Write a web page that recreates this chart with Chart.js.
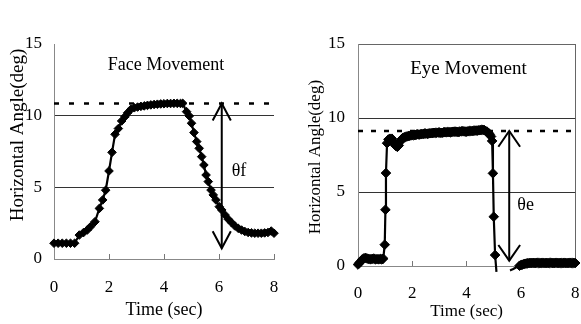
<!DOCTYPE html>
<html><head><meta charset="utf-8">
<script src="https://cdn.jsdelivr.net/npm/chart.js@4.4.0/dist/chart.umd.min.js"></script>
<style>
html,body{margin:0;padding:0;background:#fff;width:581px;height:324px;overflow:hidden}
#l{position:absolute;left:0;top:0}
#r{position:absolute;left:290px;top:0}
</style></head><body>
<canvas id="l" width="290" height="324"></canvas>
<canvas id="r" width="291" height="324"></canvas>
<script>
// ---- data ----
const faceTime = [0,0.15,0.3,0.45,0.6,0.75,0.92,1.07,1.21,1.33,1.49,1.65,1.77,1.88,2.0,2.11,2.22,2.34,2.46,2.58,2.68,2.8,2.92,3.04,3.16,3.28,3.4,3.52,3.64,3.76,3.88,4.0,4.12,4.24,4.36,4.48,4.6,4.68,4.82,4.92,5.0,5.09,5.19,5.28,5.37,5.45,5.53,5.61,5.71,5.79,5.89,6.01,6.1,6.22,6.34,6.46,6.58,6.7,6.82,6.94,7.06,7.18,7.3,7.42,7.54,7.66,7.78,7.9,8.0];
const faceAngle = [1.1,1.1,1.1,1.1,1.1,1.1,1.67,1.84,2.02,2.26,2.6,3.53,4.12,4.8,6.14,7.44,8.7,9.1,9.63,9.93,10.2,10.45,10.55,10.6,10.65,10.68,10.72,10.75,10.78,10.8,10.82,10.83,10.85,10.85,10.86,10.86,10.85,10.86,10.28,9.98,9.47,8.82,8.19,7.72,7.14,6.56,5.86,5.4,4.81,4.47,4.12,3.65,3.42,3.07,2.77,2.53,2.3,2.14,2.02,1.92,1.85,1.82,1.8,1.8,1.8,1.82,1.85,1.95,1.8];
const eyeTime = [0,0.05,0.1,0.16,0.22,0.28,0.34,0.4,0.46,0.52,0.58,0.64,0.7,0.76,0.82,0.88,0.93,0.985,1.01,1.03,1.07,1.12,1.18,1.25,1.3,1.35,1.4,1.45,1.5,1.55,1.6,1.65,1.7,1.75,1.8,1.85,1.9,1.95,2.0,2.05,2.1,2.15,2.2,2.25,2.3,2.35,2.4,2.45,2.5,2.55,2.6,2.65,2.7,2.75,2.8,2.85,2.9,2.95,3.0,3.05,3.1,3.15,3.2,3.25,3.3,3.35,3.4,3.45,3.5,3.55,3.6,3.65,3.7,3.75,3.8,3.85,3.9,3.95,4.0,4.05,4.1,4.15,4.2,4.25,4.3,4.35,4.4,4.45,4.5,4.55,4.6,4.65,4.7,4.75,4.8,4.85,4.9,4.94,4.97,5.0,5.05,5.1,5.3,5.6,5.65,5.7,5.75,5.8,5.85,5.9,5.95,6.0,6.05,6.1,6.15,6.2,6.25,6.3,6.35,6.4,6.45,6.5,6.55,6.6,6.65,6.7,6.75,6.8,6.85,6.9,6.95,7.0,7.05,7.1,7.15,7.2,7.25,7.3,7.35,7.4,7.45,7.5,7.55,7.6,7.65,7.7,7.75,7.8,7.85,7.9,7.95,8.0];
const eyeAngle = [0.1,0.2,0.3,0.45,0.52,0.55,0.5,0.48,0.45,0.48,0.5,0.45,0.47,0.45,0.48,0.45,0.5,1.44,3.8,6.28,8.3,8.55,8.6,8.6,8.4,8.2,8.1,8.05,8.15,8.4,8.55,8.65,8.7,8.72,8.75,8.78,8.8,8.82,8.85,8.83,8.85,8.88,8.9,8.88,8.9,8.92,8.92,8.95,8.95,8.93,8.95,8.97,8.97,8.98,9.0,9.0,9.0,9.02,9.02,9.0,9.0,9.03,9.05,9.03,9.05,9.05,9.03,9.05,9.07,9.08,9.08,9.06,9.05,9.08,9.1,9.1,9.1,9.08,9.08,9.1,9.12,9.12,9.12,9.14,9.15,9.15,9.15,9.17,9.18,9.2,9.2,9.18,9.12,9.08,9.0,8.9,8.75,8.45,6.26,3.33,0.74,-0.4,null,-0.3,-0.26,-0.22,-0.17,-0.12,-0.07,-0.02,0.02,0.06,0.09,0.12,0.15,0.17,0.18,0.2,0.2,0.2,0.21,0.2,0.2,0.22,0.2,0.2,0.2,0.22,0.2,0.2,0.21,0.2,0.2,0.22,0.2,0.2,0.2,0.22,0.2,0.2,0.21,0.2,0.2,0.22,0.2,0.2,0.2,0.22,0.2,0.2,0.21,0.2,0.2];
const xTicks = [0,2,4,6,8];
const yTicks = [0,5,10,15];
const faceLevel = 10.85;
const eyeLevel = 9.12;
const faceArrow = {x:6.1, top:10.85, bottom:0.75, headDx:0.33, headDy:1.19};
const eyeArrow = {x:5.57, top:9.12, bottom:0.36, headDx:0.4, headDy:1.06};
const faceNotes = [{text:'Face Movement', x:4.07, y:13.55, size:18, align:'center'},{text:'\u03b8f', x:6.46, y:6.09, size:18, align:'left'}];
const eyeNotes = [{text:'Eye Movement', x:4.07, y:13.3, size:19, align:'center'},{text:'\u03b8e', x:5.87, y:4.12, size:18, align:'left'}];

const FONT = "'Liberation Serif','Times New Roman',serif";
Chart.defaults.font.family = FONT;
Chart.defaults.color = '#000';

const notePlugin = {
  id:'notes',
  afterDatasetsDraw(chart, args, opts){
    const {ctx, scales:{x,y}} = chart;
    ctx.save();
    ctx.fillStyle = '#000';
    ctx.textBaseline = 'middle';
    for (const n of opts.items) {
      ctx.font = n.size + 'px ' + FONT;
      ctx.textAlign = n.align;
      ctx.fillText(n.text, x.getPixelForValue(n.x), y.getPixelForValue(n.y));
    }
    ctx.restore();
  }
};

function pts(ts, vs){ return ts.map((t,i)=>({x:t, y:vs[i]})); }
function arrowSets(a, w){
  const base = {borderColor:'#000', borderWidth:w, pointRadius:0, fill:false, tension:0, clip:false};
  return [
    Object.assign({data:[{x:a.x,y:a.top},{x:a.x,y:a.bottom}]}, base),
    Object.assign({data:[{x:a.x-a.headDx,y:a.top-a.headDy},{x:a.x,y:a.top},{x:a.x+a.headDx,y:a.top-a.headDy}]}, base),
    Object.assign({data:[{x:a.x-a.headDx,y:a.bottom+a.headDy},{x:a.x,y:a.bottom},{x:a.x+a.headDx,y:a.bottom+a.headDy}]}, base)
  ];
}

function makeChart(id, cfg){
  return new Chart(document.getElementById(id), {
    type:'line',
    data:{datasets:[
      {data:pts(cfg.t, cfg.v), borderColor:'#000', backgroundColor:'#000', borderWidth:2.2,
       pointStyle:'rectRot', pointRadius:(c)=> (c.raw && c.raw.y < 0 ? 0 : cfg.radius), pointBorderWidth:1, pointBorderColor:'#000',
       pointBackgroundColor:'#000', tension:0, spanGaps:false, clip:cfg.clip},
      {data:[{x:0,y:cfg.level},{x:8,y:cfg.level}], borderColor:'#000', borderWidth:2.5, borderDash:cfg.dash, pointRadius:0, clip:false},
      ...arrowSets(cfg.arrow, 2)
    ]},
    options:{
      responsive:false, animation:false, devicePixelRatio:1,
      layout:{padding:{left:0, top:44, right:cfg.padRight, bottom:0}},
      plugins:{legend:{display:false}, tooltip:{enabled:false}, notes:{items:cfg.notes}},
      scales:{
        x:{type:'linear', min:0, max:8,
           afterBuildTicks:(s)=>{ s.ticks = xTicks.map(v=>({value:v})); },
           afterFit:(s)=>{ s.height = cfg.xH; s.paddingLeft = 4; s.paddingRight = 4; },
           ticks:{font:{size:17}, padding:cfg.xTickPad, maxRotation:0, autoSkip:false},
           grid:{drawOnChartArea:cfg.box, color:(c)=> (cfg.box && c.tick && c.tick.value===8 ? '#666' : 'rgba(0,0,0,0)'),
                 tickLength:-5, tickColor:'#777', lineWidth:1},
           border:{display:true, color:'#888', width:1},
           title:{display:true, text:'Time (sec)', font:{size:cfg.xTitleSize}, padding:{top:0,bottom:cfg.xTitlePad}}
        },
        y:{type:'linear', min:0, max:15,
           afterBuildTicks:(s)=>{ s.ticks = yTicks.map(v=>({value:v})); },
           afterFit:(s)=>{ s.width = cfg.yW; },
           ticks:{font:{size:17}, padding:cfg.yTickPad},
           grid:{drawTicks:false, lineWidth:1,
                 color:(c)=>{ const v=c.tick&&c.tick.value; if(v===5||v===10) return '#333'; if(v===15&&cfg.box) return '#666'; return 'rgba(0,0,0,0)'; }},
           border:{display:true, color:'#888', width:1},
           title:{display:true, text:cfg.yTitle, align:cfg.yAlign, font:{size:cfg.yTitleSize}, padding:{top:cfg.yTitlePad,bottom:0}}
        }
      }
    },
    plugins:[notePlugin]
  });
}

makeChart('l', {t:faceTime, v:faceAngle, radius:4.3, clip:false, level:faceLevel, dash:[5,10], arrow:faceArrow,
  notes:faceNotes, padRight:16, xH:65, xTickPad:23, xTitleSize:18, xTitlePad:3, box:false,
  yW:54, yTickPad:12, yTitle:'Horizontal Angle(deg) ', yAlign:'end', yTitleSize:19, yTitlePad:7});
makeChart('r', {t:eyeTime, v:eyeAngle, radius:4.8, clip:{left:6,top:6,right:6,bottom:6}, level:eyeLevel, dash:[5,8], arrow:eyeArrow,
  notes:eyeNotes, padRight:4, xH:58, xTickPad:22, xTitleSize:17, xTitlePad:2, box:true,
  yW:68, yTickPad:13, yTitle:'Horizontal Angle(deg) ', yAlign:'center', yTitleSize:17, yTitlePad:15});
</script>
</body></html>
